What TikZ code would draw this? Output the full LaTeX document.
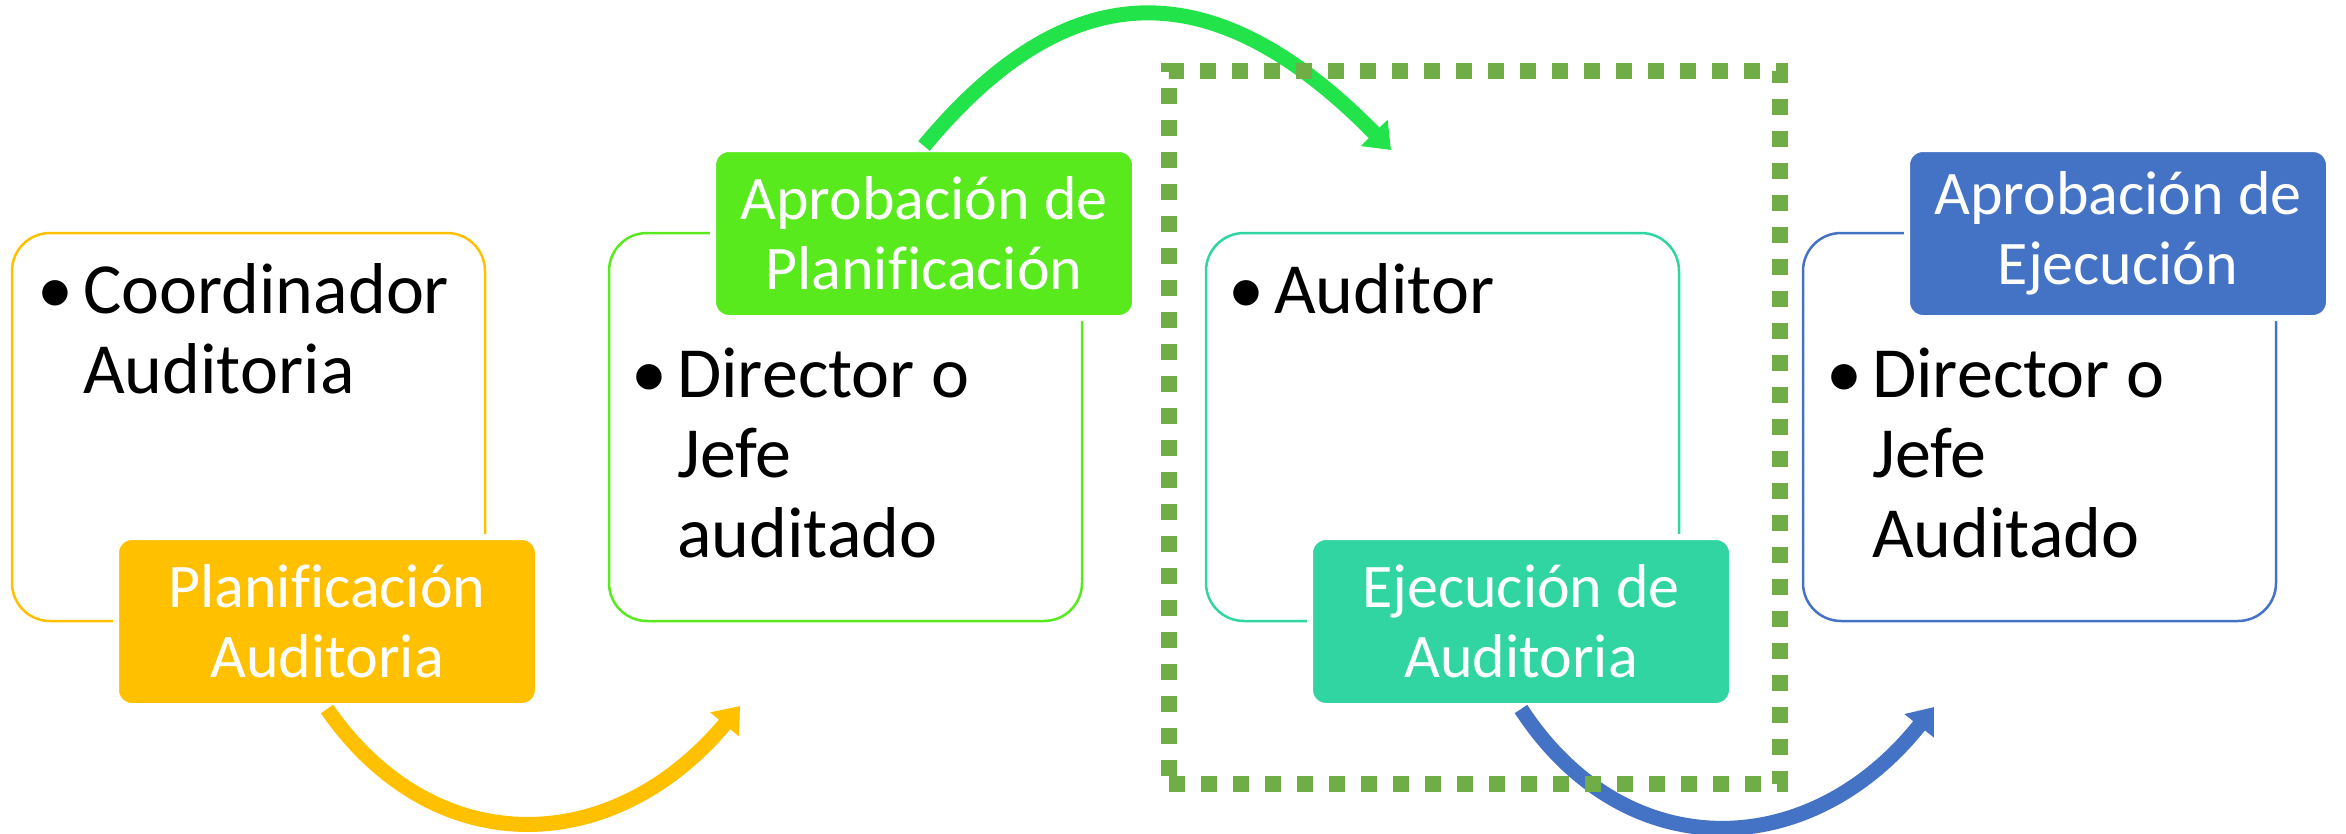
\documentclass[tikz,border=0pt]{standalone}
\usepackage{fontspec}
\setmainfont{Carlito}[Ligatures=NoCommon]
\usepackage{tikz}
\usetikzlibrary{arrows.meta}
\definecolor{planyellow}{HTML}{FFC000}
\definecolor{aprobgreen}{HTML}{58EA1D}
\definecolor{arrowgreen}{HTML}{22E34A}
\definecolor{ejecteal}{HTML}{30D5A1}
\definecolor{aprobblue}{HTML}{4472C4}
\definecolor{framegreen}{HTML}{70AD47}
\tikzstyle{outerbox} = [rectangle, rounded corners=38pt, minimum width=473pt, minimum height=388pt, line width=2.5pt, fill=white]
\tikzstyle{tagbox} = [rectangle, rounded corners=16pt, minimum width=422pt, minimum height=169pt, draw=white, line width=6pt, text=white, align=center, font=\fontsize{62}{70}\selectfont]
\tikzstyle{itemtext} = [anchor=base west, inner sep=0pt, font=\fontsize{72}{80}\selectfont]
\tikzstyle{arrow} = [line width=15pt, -{Triangle[length=24pt,width=36pt]}]

\begin{document}
\begin{tikzpicture}[x=1pt, y=-1pt]
      \useasboundingbox (0,0) rectangle (2346,833);
      % outer boxes
      \node (b1) [outerbox, draw=planyellow] at (248.5,427) {};
      \node (b2) [outerbox, draw=aprobgreen] at (845.5,427) {};
      \node (b3) [outerbox, draw=ejecteal] at (1442.5,427) {};
      \node (b4) [outerbox, draw=aprobblue] at (2039.5,427) {};
      % who does it
      \node (t1) [itemtext] at (37,313) {\begin{tabular}[t]{@{}p{46pt}@{}l@{}}\textbullet & Coordinador\\ & Auditoria\end{tabular}};
      \node (t2) [itemtext] at (631,397) {\begin{tabular}[t]{@{}p{46pt}@{}l@{}}\textbullet & Director o\\ & Jefe\\ & auditado\end{tabular}};
      \node (t3) [itemtext] at (1228,313) {\begin{tabular}[t]{@{}p{46pt}@{}l@{}}\textbullet & Auditor\end{tabular}};
      \node (t4) [itemtext] at (1826,397) {\begin{tabular}[t]{@{}p{46pt}@{}l@{}}\textbullet & Director o\\ & Jefe\\ & Auditado\end{tabular}};
      % stage tags
      \node (plan) [tagbox, fill=planyellow] at (327,621.5) {Planificación\\Auditoria};
      \node (aprobplan) [tagbox, fill=aprobgreen] at (924,233.5) {Aprobación de\\Planificación};
      \node (ejec) [tagbox, fill=ejecteal] at (1521,621.5) {Ejecución de\\Auditoria};
      \node (aprobejec) [tagbox, fill=aprobblue] at (2118,233.5) {Aprobación de\\Ejecución};
      % arrows
      \coordinate (plantip) at (740,706);
      \coordinate (aprobtip) at (1391,150);
      \coordinate (ejectip) at (1934,707);
      \draw [arrow, draw=planyellow] (plan.south) .. controls +(106,153) and +(-128,153) .. (plantip);
      \draw [arrow, draw=arrowgreen] (aprobplan.north) .. controls +(147,-177) and +(-175,-178) .. (aprobtip);
      \draw [arrow, draw=aprobblue] (ejec.south) .. controls +(103,158) and +(-125,157) .. (ejectip);
      % highlight frame
      \node (frame) [rectangle, draw=framegreen, line width=16pt, dash pattern=on 16pt off 16pt, minimum width=611pt, minimum height=713pt] at (1474.5,427.5) {};
\end{tikzpicture}
\end{document}
